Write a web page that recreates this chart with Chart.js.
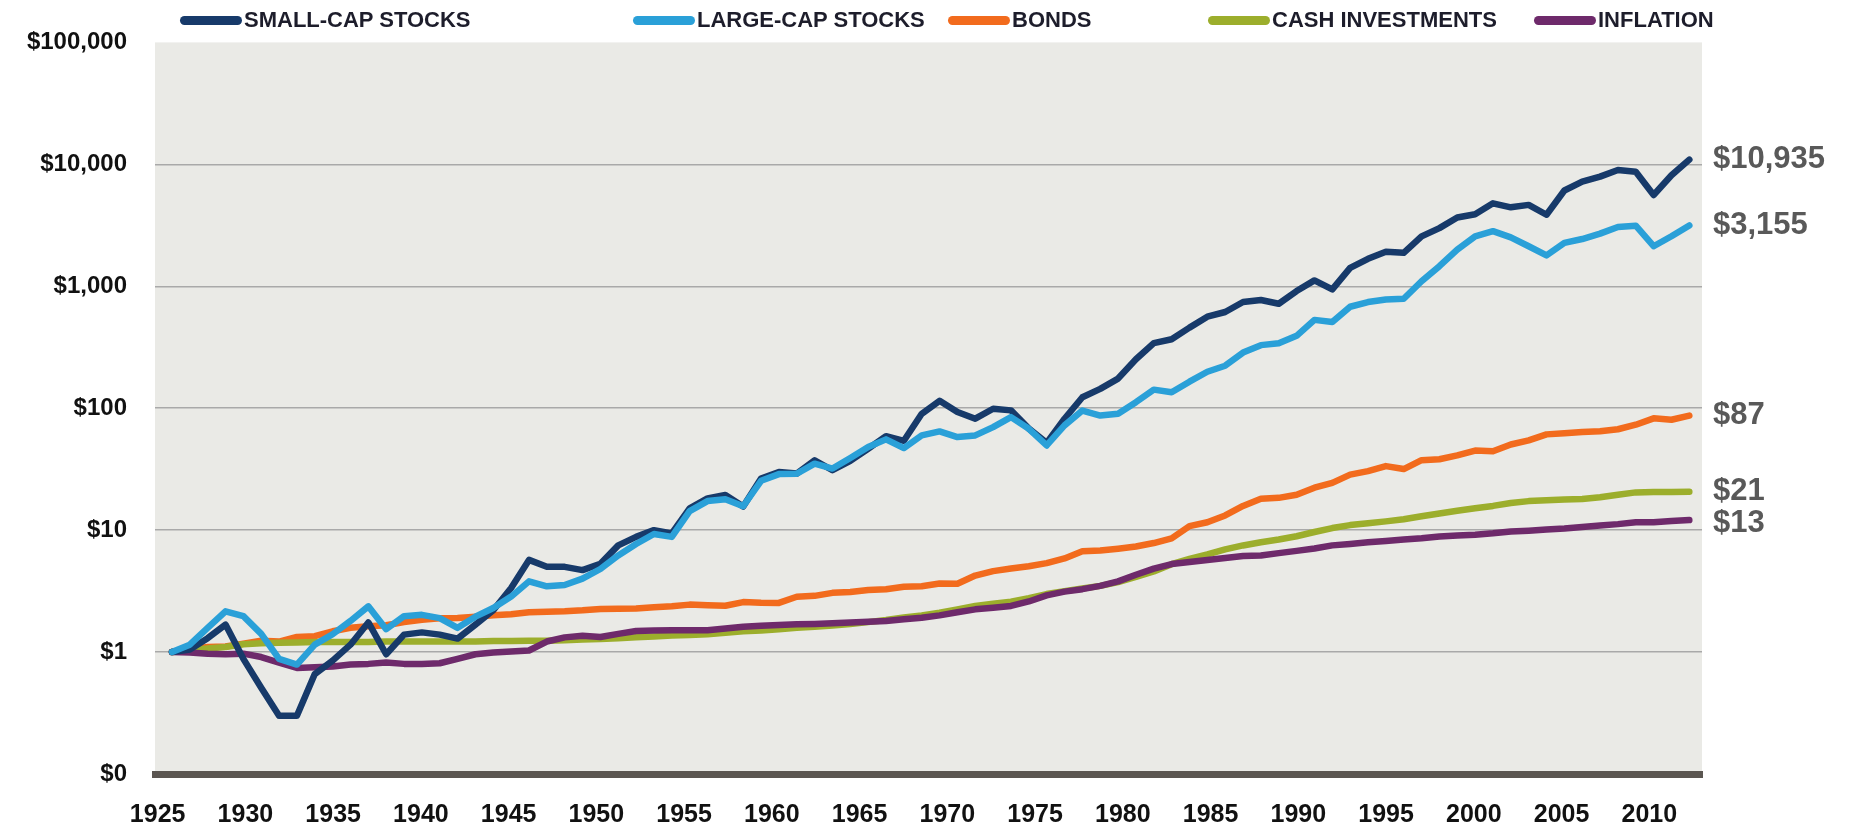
<!DOCTYPE html>
<html>
<head>
<meta charset="utf-8">
<title>Growth of $1, 1926-2010</title>
<script src="https://cdn.jsdelivr.net/npm/chart.js@4.4.1/dist/chart.umd.min.js"></script>
<style>
    body { margin: 0; background: #fff; font-family: "Liberation Sans", Arial, sans-serif; }
    #wrap { position: relative; width: 1858px; height: 830px; }
    #chartBox { position: absolute; left: 0; top: 0; width: 1858px; height: 830px; }
    #legend { position: absolute; top: 7px; left: 0; width: 1858px; height: 26px; }
    .item { position: absolute; top: 0; display: flex; align-items: center; white-space: nowrap; font-weight: bold; font-size: 22px; line-height: 26px; color: #1d1d2b; }
    .swatch { width: 62px; height: 9px; border-radius: 5px; margin-right: 2px; }
</style>
</head>
<body>
<div id="wrap">
    <div id="chartBox"><canvas id="myChart"></canvas></div>
    <div id="legend"></div>
</div>
<script>
// year-end values of $1 invested at the end of 1925
const firstYear = 1925;
const lastYear = 2010;
const tickYears = [1925, 1930, 1935, 1940, 1945, 1950, 1955, 1960, 1965, 1970, 1975, 1980, 1985, 1990, 1995, 2000, 2005, 2010];
const yTicks = [0.1, 1, 10, 100, 1000, 10000, 100000];

const smallCap = [
    1.00, 1.05, 1.30, 1.68, 0.88, 0.51, 0.30, 0.30, 0.66, 0.85,
    1.15, 1.75, 0.96, 1.39, 1.45, 1.39, 1.29, 1.68, 2.2, 3.35,
    5.7, 5.0, 5.0, 4.7, 5.3, 7.5, 8.8, 10.0, 9.4, 15.1,
    18.2, 19.4, 15.6, 26.5, 30.0, 29.1, 37.4, 31.0, 37.0, 46.5,
    59, 54, 90, 115, 93, 82, 99, 96, 68, 52,
    82, 123, 144, 175, 252, 342, 368, 458, 563, 615,
    743, 771, 719, 914, 1117, 942, 1416, 1679, 1916, 1880,
    2563, 3000, 3665, 3900, 4790, 4440, 4650, 3860, 6100, 7220,
    7930, 8990, 8700, 5600, 8130, 10935
];
const largeCap = [
    1.00, 1.15, 1.58, 2.16, 1.97, 1.41, 0.88, 0.79, 1.15, 1.40,
    1.80, 2.37, 1.54, 1.97, 2.02, 1.90, 1.58, 1.95, 2.3, 2.85,
    3.8, 3.46, 3.55, 4.0, 4.8, 6.2, 7.7, 9.3, 8.8, 14.3,
    17.3, 17.9, 15.7, 25.4, 28.8, 29, 35.1, 32, 39, 48,
    55.5, 47.1, 59.8, 64.5, 58, 59.8, 70, 84.5, 67.8, 49.5,
    72.3, 95.6, 87, 90, 112, 142, 135, 165, 199, 223,
    286, 329, 341, 392, 530, 509, 679, 742, 780, 790,
    1100, 1460, 2000, 2570, 2830, 2520, 2130, 1790, 2270, 2440,
    2700, 3060, 3140, 2130, 2570, 3155
];
const bonds = [
    1.00, 1.05, 1.10, 1.11, 1.17, 1.24, 1.22, 1.33, 1.35, 1.48,
    1.58, 1.63, 1.66, 1.76, 1.84, 1.89, 1.90, 1.95, 2.00, 2.04,
    2.12, 2.14, 2.16, 2.20, 2.26, 2.27, 2.28, 2.33, 2.38, 2.45,
    2.42, 2.40, 2.57, 2.54, 2.53, 2.84, 2.89, 3.06, 3.11, 3.23,
    3.27, 3.43, 3.47, 3.65, 3.63, 4.24, 4.61, 4.84, 5.06, 5.36,
    5.86, 6.70, 6.81, 7.05, 7.34, 7.84, 8.57, 10.8, 11.6, 13.2,
    15.8, 18.1, 18.4, 19.5, 22.3, 24.4, 28.5, 30.5, 33.5, 31.7,
    37.5, 38.1, 41.0, 44.9, 44.3, 50.4, 54.5, 61.0, 62.4, 63.9,
    64.8, 67.2, 73.2, 82.6, 80.4, 87
];
const cash = [
    1.00, 1.03, 1.07, 1.10, 1.16, 1.18, 1.19, 1.20, 1.21, 1.21,
    1.21, 1.21, 1.22, 1.22, 1.22, 1.22, 1.22, 1.22, 1.23, 1.23,
    1.24, 1.24, 1.25, 1.27, 1.28, 1.30, 1.32, 1.34, 1.37, 1.38,
    1.40, 1.44, 1.48, 1.50, 1.54, 1.58, 1.61, 1.65, 1.70, 1.76,
    1.83, 1.92, 2.00, 2.10, 2.24, 2.39, 2.49, 2.59, 2.77, 2.99,
    3.16, 3.32, 3.49, 3.75, 4.13, 4.59, 5.26, 5.81, 6.33, 6.96,
    7.49, 7.95, 8.37, 8.91, 9.65, 10.4, 11.0, 11.4, 11.8, 12.3,
    13.0, 13.7, 14.4, 15.1, 15.8, 16.7, 17.3, 17.6, 17.8, 18.0,
    18.6, 19.5, 20.4, 20.5, 20.5, 20.6
];
const inflation = [
    1.00, 0.99, 0.97, 0.96, 0.97, 0.91, 0.82, 0.74, 0.75, 0.76,
    0.79, 0.80, 0.82, 0.80, 0.80, 0.81, 0.88, 0.96, 0.99, 1.01,
    1.03, 1.22, 1.32, 1.36, 1.33, 1.41, 1.49, 1.50, 1.51, 1.51,
    1.51, 1.56, 1.61, 1.64, 1.67, 1.69, 1.70, 1.72, 1.75, 1.77,
    1.80, 1.86, 1.91, 2.00, 2.12, 2.24, 2.31, 2.39, 2.60, 2.92,
    3.13, 3.28, 3.49, 3.80, 4.31, 4.84, 5.27, 5.47, 5.69, 5.91,
    6.13, 6.20, 6.48, 6.76, 7.07, 7.50, 7.71, 7.94, 8.16, 8.38,
    8.59, 8.88, 9.03, 9.18, 9.42, 9.74, 9.89, 10.1, 10.3, 10.6,
    10.9, 11.2, 11.6, 11.6, 11.9, 12.1
];
const seriesNames = ['SMALL-CAP STOCKS', 'LARGE-CAP STOCKS', 'BONDS', 'CASH INVESTMENTS', 'INFLATION'];
const endLabels = ['$10,935', '$3,155', '$87', '$21', '$13'];

const years = [];
for (let y = firstYear; y <= lastYear; y++) {
    years.push(y);
}

function toPoints(values) {
    return values.map((v, i) => ({ x: years[i], y: v }));
}

const fontFamily = '"Liberation Sans", Arial, sans-serif';
const legendLeft = [180, 633, 948, 1208, 1534];

// grey plot background
const plotBackground = {
    id: 'plotBackground',
    beforeDraw(chart) {
        const { ctx, chartArea } = chart;
        ctx.save();
        ctx.fillStyle = '#eaeae6';
        ctx.fillRect(chartArea.left, chartArea.top, chartArea.right - chartArea.left, chartArea.bottom - chartArea.top);
        ctx.restore();
    }
};

// final values written to the right of the lines
const endLabelPlugin = {
    id: 'endLabels',
    afterDatasetsDraw(chart) {
        const ctx = chart.ctx;
        const yScale = chart.scales.y;
        let prev = -Infinity;
        ctx.save();
        ctx.font = 'bold 31px ' + fontFamily;
        ctx.fillStyle = '#595959';
        ctx.textAlign = 'left';
        ctx.textBaseline = 'middle';
        chart.data.datasets.forEach((ds, i) => {
            const last = ds.data[ds.data.length - 1];
            let y = yScale.getPixelForValue(last.y);
            if (y - prev < 32) {
                y = prev + 32;
            }
            prev = y;
            ctx.fillText(endLabels[i], chart.chartArea.right + 11, y);
        });
        ctx.restore();
    }
};

const ctx = document.getElementById('myChart').getContext('2d');

const myChart = new Chart(ctx, {
    type: 'line',
    data: {
        datasets: [{
                label: seriesNames[0],
                data: toPoints(smallCap),
                borderColor: '#173a6a',
                order: 1,
            },
            {
                label: seriesNames[1],
                data: toPoints(largeCap),
                borderColor: '#2aa0d8',
                order: 0,
            },
            {
                label: seriesNames[2],
                data: toPoints(bonds),
                borderColor: '#f26b1d',
                order: 4,
            },
            {
                label: seriesNames[3],
                data: toPoints(cash),
                borderColor: '#9cae2c',
                order: 3,
            },
            {
                label: seriesNames[4],
                data: toPoints(inflation),
                borderColor: '#6e2a6b',
                order: 2,
            },
        ],
    },
    options: {
        responsive: true,
        maintainAspectRatio: false,
        animation: false,
        layout: {
            padding: { top: 38, right: 156, left: 0, bottom: 0 }
        },
        elements: {
            line: {
                tension: 0,
                borderWidth: 6.5,
                borderJoinStyle: 'round',
                borderCapStyle: 'round',
                fill: false,
            },
            point: {
                radius: 0,
                hoverRadius: 0,
            }
        },
        scales: {
            // scale the points are placed on
            x: {
                type: 'linear',
                display: false,
                min: 1924.05,
                max: 2010.71,
            },
            // year labels, which sit a little left of the points in the original
            years: {
                type: 'linear',
                position: 'bottom',
                axis: 'x',
                min: 1924.85,
                max: 2013.0,
                afterBuildTicks: (scale) => {
                    scale.ticks = tickYears.map(v => ({ value: v }));
                },
                afterFit: (scale) => {
                    scale.height = 56;
                },
                grid: {
                    display: false,
                    drawTicks: false,
                },
                border: {
                    display: true,
                    color: '#5b5651',
                    width: 7,
                },
                ticks: {
                    autoSkip: false,
                    maxRotation: 0,
                    padding: 26,
                    color: '#111',
                    font: { family: fontFamily, size: 25, weight: 'bold' },
                    callback: (value) => String(value),
                }
            },
            y: {
                type: 'logarithmic',
                min: 0.1,
                max: 100000,
                afterBuildTicks: (scale) => {
                    scale.ticks = yTicks.map(v => ({ value: v }));
                },
                afterFit: (scale) => {
                    scale.width = 155;
                },
                grid: {
                    drawTicks: false,
                    lineWidth: 1.5,
                    color: (c) => (c.tick && c.tick.value === 100000) ? 'rgba(0,0,0,0)' : '#a9a9a9',
                },
                border: {
                    display: false,
                },
                ticks: {
                    autoSkip: false,
                    padding: 28,
                    color: '#111',
                    font: { family: fontFamily, size: 24, weight: 'bold' },
                    callback: (value) => value < 1 ? '$0' : '$' + value.toLocaleString('en-US'),
                }
            }
        },
        plugins: {
            legend: { display: false },
            tooltip: { enabled: false },
        },
    },
    plugins: [plotBackground, endLabelPlugin],
});

// legend built from the datasets
const legendBox = document.getElementById('legend');
myChart.data.datasets.forEach((ds, i) => {
    const item = document.createElement('div');
    item.className = 'item';
    item.style.left = legendLeft[i] + 'px';
    const swatch = document.createElement('span');
    swatch.className = 'swatch';
    swatch.style.backgroundColor = ds.borderColor;
    item.appendChild(swatch);
    item.appendChild(document.createTextNode(ds.label));
    legendBox.appendChild(item);
});
</script>
</body>
</html>
